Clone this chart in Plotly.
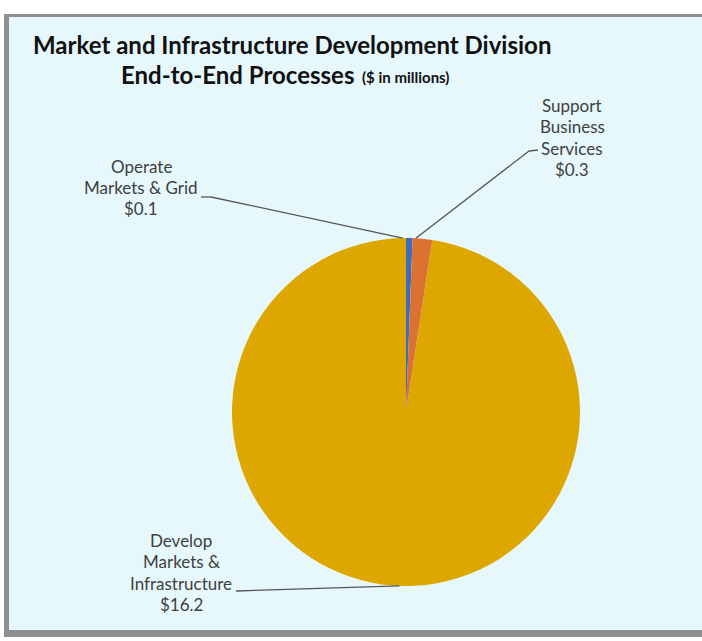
import math
import plotly.graph_objects as go

# ---- data ----
categories = ["Operate Markets & Grid", "Develop Markets & Infrastructure", "Support Business Services"]
label_lines = [["Operate", "Markets & Grid"], ["Develop", "Markets &", "Infrastructure"], ["Support", "Business", "Services"]]
values = [0.1, 16.2, 0.3]
colors = ["#3F6CB8", "#DEA700", "#DC7232"]

title1 = "Market and Infrastructure Development Division"
title2 = "End-to-End Processes"
title_units = "($ in millions)"

W, H = 702, 641
BG = "#E6F8FC"

# pie geometry (pixels)
cx, cy, r = 406, 412, 174

def px(x):
    return x / W

def py(y):
    return 1 - y / H

fig = go.Figure(go.Pie(
    labels=categories, values=values, sort=False, direction="counterclockwise",
    rotation=0, marker=dict(colors=colors, line=dict(width=0)),
    textinfo="none", hoverinfo="label+value", showlegend=False,
    domain=dict(x=[px(cx - r), px(cx + r)], y=[py(cy + r), py(cy - r)]),
))

shapes = []
# frame with shadow
shapes.append(dict(type="rect", xref="paper", yref="paper", layer="below",
                   x0=px(4), x1=px(702), y0=py(637), y1=py(14),
                   fillcolor="#8F8F8F", line=dict(width=0)))
shapes.append(dict(type="rect", xref="paper", yref="paper", layer="below",
                   x0=px(9), x1=px(702), y0=py(630), y1=py(17),
                   fillcolor=BG, line=dict(width=0)))

# compute slice mid-angles (counterclockwise from 12 o'clock)
total = sum(values)
mids = []
acc = 0
for v in values:
    mids.append(90 + (acc + v / 2) / total * 360)
    acc += v

def edge_point(i):
    a = math.radians(mids[i])
    return cx + r * math.cos(a), cy - r * math.sin(a)

# label anchors (pixel): text center x, first line y, leader path start points
label_pos = [
    dict(x=141, y=166, path=[(201, 197), (211, 197)]),
    dict(x=181, y=540, path=[(236, 591)]),
    dict(x=572, y=105, path=[(538, 150), (529, 151)]),
]
annotations = []
font_lbl = dict(family="Lato, Open Sans, sans-serif", size=17, color="#404040")
for i, lp in enumerate(label_pos):
    lines = label_lines[i] + ["$" + f"{values[i]:.1f}"]
    for k, t in enumerate(lines):
        annotations.append(dict(text=t, x=px(lp["x"]), y=py(lp["y"] + k * 21.5),
                                xref="paper", yref="paper", showarrow=False,
                                xanchor="center", yanchor="middle", font=font_lbl))
    pts = lp["path"] + [edge_point(i)]
    for (x0, y0), (x1, y1) in zip(pts[:-1], pts[1:]):
        shapes.append(dict(type="line", xref="paper", yref="paper",
                           x0=px(x0), y0=py(y0), x1=px(x1), y1=py(y1),
                           line=dict(color="#555555", width=1.3)))

font_title = dict(family="Lato, Open Sans, sans-serif", size=24, color="#111111")
annotations.append(dict(text="<b>" + title1 + "</b>", x=px(31), y=py(44), xref="paper", yref="paper",
                        showarrow=False, xanchor="left", yanchor="middle", font=font_title))
annotations.append(dict(text="<b>" + title2 + "</b>", x=px(119), y=py(75), xref="paper", yref="paper",
                        showarrow=False, xanchor="left", yanchor="middle", font=font_title))
annotations.append(dict(text="<b>" + title_units + "</b>", x=px(360), y=py(77), xref="paper", yref="paper",
                        showarrow=False, xanchor="left", yanchor="middle",
                        font=dict(family="Lato, Open Sans, sans-serif", size=15, color="#111111")))

fig.update_layout(width=W, height=H, margin=dict(l=0, r=0, t=0, b=0),
                  paper_bgcolor="white", plot_bgcolor="white",
                  shapes=shapes, annotations=annotations)
fig.write_html("out.html", config={"displayModeBar": False},
               post_script="document.body.style.margin='0';document.body.style.overflow='hidden';")
